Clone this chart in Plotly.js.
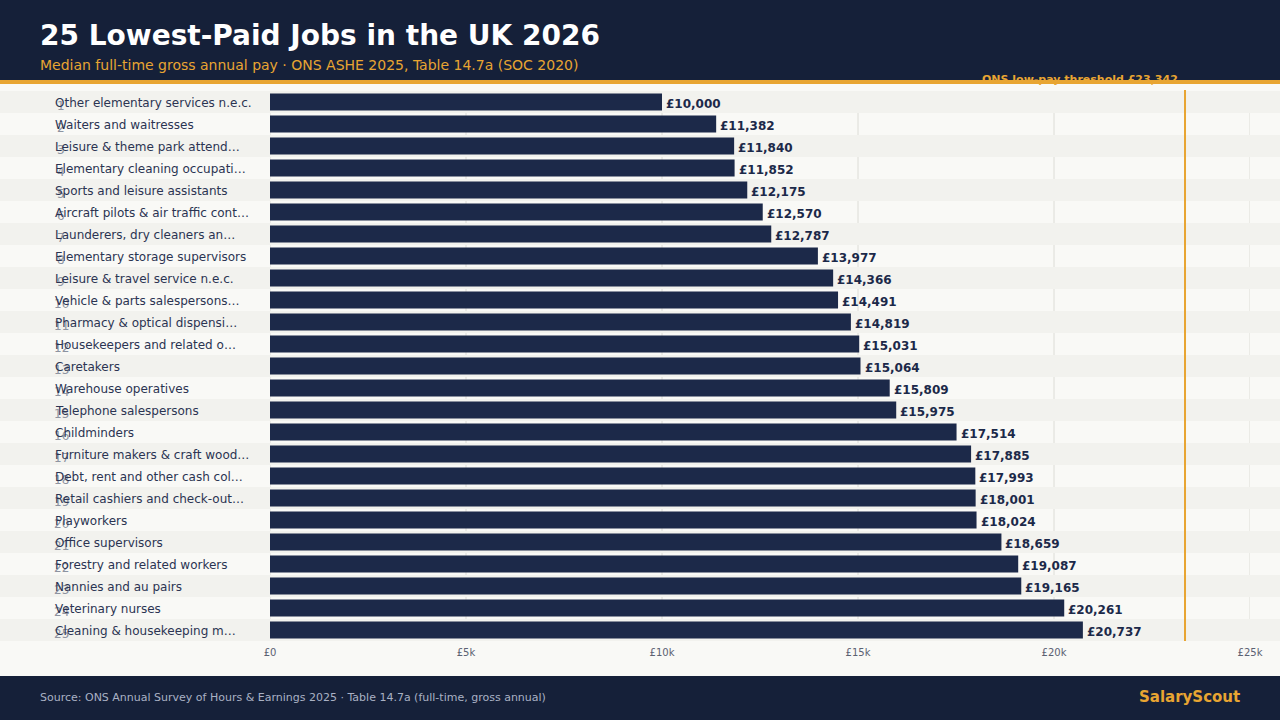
<!DOCTYPE html>
<html>
<head>
<meta charset="utf-8">
<script src="https://cdn.plot.ly/plotly-3.0.1.min.js"></script>
<style>html,body{margin:0;padding:0;background:#f9f9f6;}#chart{width:1280px;height:720px;}</style>
</head>
<body>
<div id="chart"></div>
<script>
const jobs = [
  "Other elementary services n.e.c.",
  "Waiters and waitresses",
  "Leisure & theme park attend…",
  "Elementary cleaning occupati…",
  "Sports and leisure assistants",
  "Aircraft pilots & air traffic cont…",
  "Launderers, dry cleaners an…",
  "Elementary storage supervisors",
  "Leisure & travel service n.e.c.",
  "Vehicle & parts salespersons…",
  "Pharmacy & optical dispensi…",
  "Housekeepers and related o…",
  "Caretakers",
  "Warehouse operatives",
  "Telephone salespersons",
  "Childminders",
  "Furniture makers & craft wood…",
  "Debt, rent and other cash col…",
  "Retail cashiers and check-out…",
  "Playworkers",
  "Office supervisors",
  "Forestry and related workers",
  "Nannies and au pairs",
  "Veterinary nurses",
  "Cleaning & housekeeping m…"
];
const pay = [10000, 11382, 11840, 11852, 12175, 12570, 12787, 13977, 14366, 14491,
             14819, 15031, 15064, 15809, 15975, 17514, 17885, 17993, 18001, 18024,
             18659, 19087, 19165, 20261, 20737];
const threshold = 23342;
const tickVals = [0, 5000, 10000, 15000, 20000, 25000];
const tickText = ["£0", "£5k", "£10k", "£15k", "£20k", "£25k"];

const W = 1280, H = 720, ML = 270, MR = 30, MT = 91, MB = 79;
const PW = W - ML - MR, PH = H - MT - MB;
const px = x => (x - ML) / PW;          // pixel x -> paper x
const py = y => (H - MB - y) / PH;      // pixel y -> paper y

const FONT = "DejaVu Sans, Verdana, sans-serif";
const NAVY = "#1c2949";
const ORANGE = "#e8a532";

const fmt = v => "£" + v.toLocaleString("en-GB");

const shapes = [];
// row bands + gridline segments on light rows only
jobs.forEach((j, i) => {
  if (i % 2 === 0) {
    shapes.push({type: "rect", xref: "paper", yref: "y", x0: px(0), x1: px(W),
      y0: i - 0.5, y1: i + 0.5, fillcolor: "#f2f2ee", line: {width: 0}, layer: "below"});
  } else {
    tickVals.forEach(t => {
      shapes.push({type: "line", xref: "x", yref: "y", x0: t, x1: t, y0: i - 0.5, y1: i + 0.5,
        line: {color: "#dcdcd6", width: 1}, layer: "below"});
    });
  }
});
// header
shapes.push({type: "rect", xref: "paper", yref: "paper", x0: px(0), x1: px(W), y0: py(80), y1: py(0),
  fillcolor: "#152039", line: {width: 0}, layer: "above"});
shapes.push({type: "rect", xref: "paper", yref: "paper", x0: px(0), x1: px(W), y0: py(84), y1: py(80),
  fillcolor: ORANGE, line: {width: 0}, layer: "above"});
// footer
shapes.push({type: "rect", xref: "paper", yref: "paper", x0: px(0), x1: px(W), y0: py(720), y1: py(676),
  fillcolor: "#152039", line: {width: 0}, layer: "above"});
// threshold line
shapes.push({type: "line", xref: "x", yref: "paper", x0: threshold, x1: threshold, y0: 0, y1: py(90),
  line: {color: ORANGE, width: 2}, layer: "above"});

const annotations = [];
jobs.forEach((j, i) => {
  annotations.push({xref: "paper", yref: "y", x: px(61), y: i, xanchor: "center", yanchor: "middle",
    text: String(i + 1), showarrow: false, yshift: -4,
    font: {family: FONT, size: 12, color: "#8d93a1"}});
  annotations.push({xref: "paper", yref: "y", x: px(55), y: i, xanchor: "left", yanchor: "middle",
    text: j, showarrow: false, xshift: -2, yshift: -1, font: {family: FONT, size: 12, color: "#2b3452"}});
  annotations.push({xref: "x", yref: "y", x: pay[i], y: i, xanchor: "left", yanchor: "middle",
    text: "<b>" + fmt(pay[i]) + "</b>", showarrow: false, xshift: 2, yshift: -2,
    font: {family: FONT, size: 12, color: NAVY}});
});
annotations.push({xref: "paper", yref: "paper", x: px(40), y: py(36), xanchor: "left", yanchor: "middle",
  text: "<b>25 Lowest-Paid Jobs in the UK 2026</b>", showarrow: false, xshift: -2,
  font: {family: FONT, size: 28, color: "#ffffff"}});
annotations.push({xref: "paper", yref: "paper", x: px(40), y: py(65), xanchor: "left", yanchor: "middle",
  text: "Median full-time gross annual pay · ONS ASHE 2025, Table 14.7a (SOC 2020)", showarrow: false,
  xshift: -2, font: {family: FONT, size: 14, color: ORANGE}});
annotations.push({xref: "x", yref: "paper", x: threshold, y: py(79), xanchor: "right", yanchor: "middle",
  xshift: -5, text: "<b>ONS low-pay threshold £23,342</b>", showarrow: false,
  font: {family: FONT, size: 11, color: ORANGE}});
annotations.push({xref: "paper", yref: "paper", x: px(40), y: py(697), xanchor: "left", yanchor: "middle",
  text: "Source: ONS Annual Survey of Hours & Earnings 2025 · Table 14.7a (full-time, gross annual)",
  showarrow: false, xshift: -2, font: {family: FONT, size: 11, color: "#a9b1c4"}});
annotations.push({xref: "paper", yref: "paper", x: px(1240), y: py(697), xanchor: "right", yanchor: "middle",
  text: "<b>SalaryScout</b>", showarrow: false, xshift: 2, font: {family: FONT, size: 15, color: ORANGE}});

const trace = {
  type: "bar", orientation: "h", x: pay, y: jobs,
  marker: {color: NAVY},
  hoverinfo: "none"
};

const layout = {
  width: W, height: H,
  margin: {l: ML, r: MR, t: MT, b: MB, pad: 0},
  paper_bgcolor: "#f9f9f6", plot_bgcolor: "#f9f9f6",
  bargap: 0.23,
  showlegend: false,
  xaxis: {range: [0, 25000], tickvals: tickVals, ticktext: tickText,
    showgrid: false, zeroline: false, ticklabelstandoff: 4,
    tickfont: {family: FONT, size: 10, color: "#5b6172"}, ticks: "", fixedrange: true, showline: false},
  yaxis: {type: "category", categoryorder: "array", categoryarray: jobs,
    showticklabels: false, showgrid: false, zeroline: false, ticks: "", range: [24.5, -0.5]},
  shapes: shapes,
  annotations: annotations,
  font: {family: FONT}
};

Plotly.newPlot("chart", [trace], layout, {displayModeBar: false, staticPlot: true});
</script>
</body>
</html>
